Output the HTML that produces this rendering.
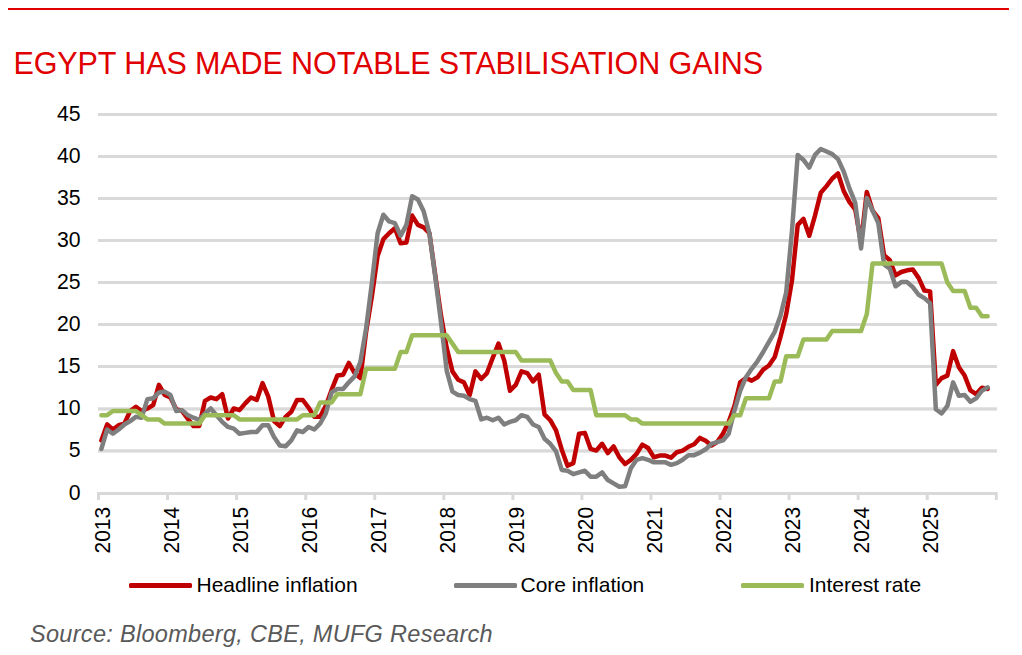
<!DOCTYPE html>
<html><head><meta charset="utf-8"><style>
html,body{margin:0;padding:0;background:#fff;width:1022px;height:655px;overflow:hidden}
svg{display:block}
text{font-family:"Liberation Sans",sans-serif}
.ax{font-size:22px;fill:#000}
.lg{font-size:21px;fill:#000}
</style></head><body>
<svg width="1022" height="655" viewBox="0 0 1022 655">
<rect x="8" y="8" width="1001" height="2" fill="#e00000"/>
<text x="13.5" y="74" style="font-size:30.5px;letter-spacing:-0.1px;fill:#e00000">EGYPT HAS MADE NOTABLE STABILISATION GAINS</text>
<rect x="98" y="449.3" width="899" height="3.3" fill="#d9d9d9"/><rect x="98" y="407.3" width="899" height="3.3" fill="#d9d9d9"/><rect x="98" y="365" width="899" height="3" fill="#d9d9d9"/><rect x="98" y="323" width="899" height="3" fill="#d9d9d9"/><rect x="98" y="281" width="899" height="3" fill="#d9d9d9"/><rect x="98" y="239" width="899" height="3" fill="#d9d9d9"/><rect x="98" y="197" width="899" height="3" fill="#d9d9d9"/><rect x="98" y="155" width="899" height="3" fill="#d9d9d9"/><rect x="98" y="113" width="899" height="3" fill="#d9d9d9"/>
<rect x="98" y="492" width="899" height="3" fill="#d9d9d9"/>
<rect x="97.00" y="492" width="3" height="8" fill="#d9d9d9"/><rect x="166.06" y="492" width="3" height="8" fill="#d9d9d9"/><rect x="235.12" y="492" width="3" height="8" fill="#d9d9d9"/><rect x="304.18" y="492" width="3" height="8" fill="#d9d9d9"/><rect x="373.24" y="492" width="3" height="8" fill="#d9d9d9"/><rect x="442.30" y="492" width="3" height="8" fill="#d9d9d9"/><rect x="511.36" y="492" width="3" height="8" fill="#d9d9d9"/><rect x="580.42" y="492" width="3" height="8" fill="#d9d9d9"/><rect x="649.48" y="492" width="3" height="8" fill="#d9d9d9"/><rect x="718.54" y="492" width="3" height="8" fill="#d9d9d9"/><rect x="787.60" y="492" width="3" height="8" fill="#d9d9d9"/><rect x="856.66" y="492" width="3" height="8" fill="#d9d9d9"/><rect x="925.72" y="492" width="3" height="8" fill="#d9d9d9"/><rect x="994.78" y="492" width="3" height="8" fill="#d9d9d9"/>
<text transform="translate(80.6,499.60) scale(0.965,1)" text-anchor="end" class="ax">0</text><text transform="translate(80.6,457.49) scale(0.965,1)" text-anchor="end" class="ax">5</text><text transform="translate(80.6,415.38) scale(0.965,1)" text-anchor="end" class="ax">10</text><text transform="translate(80.6,373.27) scale(0.965,1)" text-anchor="end" class="ax">15</text><text transform="translate(80.6,331.16) scale(0.965,1)" text-anchor="end" class="ax">20</text><text transform="translate(80.6,289.04) scale(0.965,1)" text-anchor="end" class="ax">25</text><text transform="translate(80.6,246.93) scale(0.965,1)" text-anchor="end" class="ax">30</text><text transform="translate(80.6,204.82) scale(0.965,1)" text-anchor="end" class="ax">35</text><text transform="translate(80.6,162.71) scale(0.965,1)" text-anchor="end" class="ax">40</text><text transform="translate(80.6,120.60) scale(0.965,1)" text-anchor="end" class="ax">45</text>
<text transform="translate(109.50,553.5) rotate(-90) scale(0.975,1)" class="ax" style="font-size:21.5px">2013</text><text transform="translate(178.56,553.5) rotate(-90) scale(0.975,1)" class="ax" style="font-size:21.5px">2014</text><text transform="translate(247.62,553.5) rotate(-90) scale(0.975,1)" class="ax" style="font-size:21.5px">2015</text><text transform="translate(316.68,553.5) rotate(-90) scale(0.975,1)" class="ax" style="font-size:21.5px">2016</text><text transform="translate(385.74,553.5) rotate(-90) scale(0.975,1)" class="ax" style="font-size:21.5px">2017</text><text transform="translate(454.80,553.5) rotate(-90) scale(0.975,1)" class="ax" style="font-size:21.5px">2018</text><text transform="translate(523.86,553.5) rotate(-90) scale(0.975,1)" class="ax" style="font-size:21.5px">2019</text><text transform="translate(592.92,553.5) rotate(-90) scale(0.975,1)" class="ax" style="font-size:21.5px">2020</text><text transform="translate(661.98,553.5) rotate(-90) scale(0.975,1)" class="ax" style="font-size:21.5px">2021</text><text transform="translate(731.04,553.5) rotate(-90) scale(0.975,1)" class="ax" style="font-size:21.5px">2022</text><text transform="translate(800.10,553.5) rotate(-90) scale(0.975,1)" class="ax" style="font-size:21.5px">2023</text><text transform="translate(869.16,553.5) rotate(-90) scale(0.975,1)" class="ax" style="font-size:21.5px">2024</text><text transform="translate(938.22,553.5) rotate(-90) scale(0.975,1)" class="ax" style="font-size:21.5px">2025</text>
<g fill="none" stroke-width="4.5" stroke-linejoin="round" stroke-linecap="round">
<polyline points="101.38,440.44 107.13,424.44 112.89,429.49 118.64,425.28 124.40,423.60 130.15,410.96 135.91,406.75 141.66,410.96 147.42,408.44 153.17,405.07 158.93,384.85 164.68,394.96 170.44,397.49 176.19,409.28 181.95,410.96 187.70,418.54 193.46,426.12 199.21,426.12 204.97,400.86 210.72,397.49 216.48,399.17 222.23,394.12 227.99,418.54 233.74,408.44 239.50,410.12 245.25,403.38 251.01,397.49 256.76,400.01 262.52,383.17 268.27,396.64 274.03,421.07 279.78,426.12 285.54,416.86 291.29,411.80 297.05,400.01 302.80,400.01 308.56,407.59 314.31,416.86 320.07,416.86 325.82,405.91 331.58,389.91 337.33,375.59 343.09,374.75 348.84,362.96 354.60,373.06 360.35,378.12 366.11,331.79 371.86,296.42 377.62,255.99 383.37,239.15 389.13,233.25 394.88,228.20 400.64,243.36 406.39,242.52 412.15,215.57 417.90,224.83 423.66,227.36 429.41,233.25 435.17,274.52 440.92,314.95 446.68,347.80 452.43,371.38 458.19,379.80 463.94,382.33 469.70,394.96 475.45,371.38 481.21,378.96 486.96,373.06 492.72,357.90 498.47,343.58 504.23,360.43 509.98,390.75 515.74,384.85 521.49,371.38 527.25,373.06 533.00,381.48 538.76,374.75 544.51,414.33 550.27,420.23 556.02,430.33 561.78,449.70 567.53,465.71 573.29,463.18 579.04,433.70 584.80,432.86 590.55,448.86 596.31,450.55 602.06,443.81 607.82,453.07 613.57,446.34 619.33,457.28 625.08,464.02 630.84,459.81 636.59,453.92 642.35,444.65 648.10,448.02 653.86,457.28 659.61,455.60 665.37,455.60 671.12,457.71 676.88,452.23 682.63,450.55 688.39,446.76 694.14,444.23 699.90,437.91 705.65,440.86 711.41,445.49 717.16,442.12 722.92,433.70 728.67,421.91 734.43,405.91 740.18,382.33 745.94,378.12 751.69,380.64 757.45,377.27 763.20,369.69 768.96,365.48 774.71,357.06 780.47,336.85 786.22,314.11 791.98,280.42 797.73,224.83 803.49,218.94 809.24,235.78 815.00,215.57 820.75,192.83 826.51,186.09 832.26,178.51 838.02,173.46 843.77,191.14 849.53,202.09 855.28,209.67 861.04,242.52 866.79,191.98 872.55,210.51 878.30,218.09 884.06,255.15 889.81,260.20 895.57,275.36 901.32,272.00 907.08,270.31 912.83,269.47 918.59,277.89 924.34,290.52 930.10,291.37 935.85,384.85 941.61,378.12 947.36,375.59 953.12,351.16 958.87,367.17 964.63,375.59 970.38,390.33 976.14,394.12 981.89,387.80 987.65,389.06" stroke="#c00000"/>
<polyline points="101.38,448.86 107.13,429.49 112.89,433.70 118.64,429.49 124.40,424.44 130.15,421.07 135.91,416.86 141.66,417.70 147.42,399.17 153.17,398.33 158.93,392.43 164.68,391.59 170.44,394.96 176.19,410.96 181.95,410.12 187.70,415.17 193.46,417.70 199.21,419.81 204.97,413.49 210.72,408.44 216.48,415.17 222.23,421.91 227.99,426.96 233.74,428.65 239.50,433.70 245.25,432.86 251.01,432.02 256.76,432.02 262.52,425.28 268.27,425.28 274.03,437.07 279.78,445.49 285.54,446.34 291.29,440.44 297.05,430.33 302.80,432.02 308.56,426.96 314.31,429.49 320.07,423.60 325.82,413.49 331.58,392.43 337.33,389.06 343.09,389.06 348.84,382.33 354.60,376.43 360.35,362.11 366.11,328.42 371.86,282.94 377.62,233.25 383.37,214.72 389.13,221.46 394.88,223.15 400.64,235.78 406.39,224.83 412.15,196.20 417.90,199.56 423.66,211.36 429.41,233.25 435.17,276.21 440.92,321.69 446.68,370.54 452.43,391.59 458.19,394.96 463.94,395.80 469.70,399.17 475.45,400.86 481.21,419.38 486.96,417.70 492.72,420.23 498.47,417.70 504.23,424.44 509.98,421.91 515.74,420.23 521.49,415.17 527.25,416.86 533.00,424.44 538.76,426.96 544.51,438.76 550.27,443.81 556.02,451.39 561.78,469.92 567.53,470.76 573.29,474.13 579.04,472.44 584.80,470.76 590.55,476.66 596.31,476.66 602.06,472.44 607.82,480.02 613.57,483.39 619.33,486.76 625.08,486.34 630.84,468.23 636.59,459.81 642.35,458.13 648.10,459.81 653.86,462.34 659.61,462.34 665.37,462.34 671.12,464.86 676.88,463.18 682.63,459.81 688.39,455.18 694.14,455.18 699.90,452.65 705.65,449.28 711.41,443.81 717.16,442.12 722.92,440.44 728.67,433.70 734.43,410.54 740.18,390.75 745.94,377.27 751.69,368.85 757.45,361.27 763.20,352.01 768.96,341.90 774.71,331.79 780.47,315.79 786.22,292.21 791.98,230.73 797.73,154.93 803.49,159.98 809.24,167.56 815.00,154.93 820.75,149.03 826.51,151.56 832.26,154.08 838.02,159.14 843.77,171.77 849.53,188.62 855.28,202.93 861.04,248.41 866.79,197.88 872.55,210.51 878.30,223.15 884.06,264.42 889.81,268.63 895.57,286.31 901.32,282.10 907.08,282.10 912.83,287.16 918.59,294.74 924.34,298.10 930.10,303.16 935.85,409.28 941.61,413.49 947.36,405.91 953.12,382.33 958.87,395.80 964.63,394.96 970.38,401.70 976.14,398.33 981.89,390.75 987.65,387.38" stroke="#7f7f7f"/>
<polyline points="101.38,415.19 107.13,415.19 112.89,410.98 118.64,410.98 124.40,410.98 130.15,410.98 135.91,410.98 141.66,415.19 147.42,419.41 153.17,419.41 158.93,419.41 164.68,423.62 170.44,423.62 176.19,423.62 181.95,423.62 187.70,423.62 193.46,423.62 199.21,423.62 204.97,415.19 210.72,415.19 216.48,415.19 222.23,415.19 227.99,415.19 233.74,415.19 239.50,419.41 245.25,419.41 251.01,419.41 256.76,419.41 262.52,419.41 268.27,419.41 274.03,419.41 279.78,419.41 285.54,419.41 291.29,419.41 297.05,419.41 302.80,415.19 308.56,415.19 314.31,415.19 320.07,402.56 325.82,402.56 331.58,402.56 337.33,394.14 343.09,394.14 348.84,394.14 354.60,394.14 360.35,394.14 366.11,368.87 371.86,368.87 377.62,368.87 383.37,368.87 389.13,368.87 394.88,368.87 400.64,352.03 406.39,352.03 412.15,335.18 417.90,335.18 423.66,335.18 429.41,335.18 435.17,335.18 440.92,335.18 446.68,335.18 452.43,343.61 458.19,352.03 463.94,352.03 469.70,352.03 475.45,352.03 481.21,352.03 486.96,352.03 492.72,352.03 498.47,352.03 504.23,352.03 509.98,352.03 515.74,352.03 521.49,360.45 527.25,360.45 533.00,360.45 538.76,360.45 544.51,360.45 550.27,360.45 556.02,373.08 561.78,381.51 567.53,381.51 573.29,389.93 579.04,389.93 584.80,389.93 590.55,389.93 596.31,415.19 602.06,415.19 607.82,415.19 613.57,415.19 619.33,415.19 625.08,415.19 630.84,419.41 636.59,419.41 642.35,423.62 648.10,423.62 653.86,423.62 659.61,423.62 665.37,423.62 671.12,423.62 676.88,423.62 682.63,423.62 688.39,423.62 694.14,423.62 699.90,423.62 705.65,423.62 711.41,423.62 717.16,423.62 722.92,423.62 728.67,423.62 734.43,415.19 740.18,415.19 745.94,398.35 751.69,398.35 757.45,398.35 763.20,398.35 768.96,398.35 774.71,381.51 780.47,381.51 786.22,356.24 791.98,356.24 797.73,356.24 803.49,339.39 809.24,339.39 815.00,339.39 820.75,339.39 826.51,339.39 832.26,330.97 838.02,330.97 843.77,330.97 849.53,330.97 855.28,330.97 861.04,330.97 866.79,314.13 872.55,263.59 878.30,263.59 884.06,263.59 889.81,263.59 895.57,263.59 901.32,263.59 907.08,263.59 912.83,263.59 918.59,263.59 924.34,263.59 930.10,263.59 935.85,263.59 941.61,263.59 947.36,282.54 953.12,290.97 958.87,290.97 964.63,290.97 970.38,307.81 976.14,307.81 981.89,316.23 987.65,316.23" stroke="#9bbb59"/>
</g>
<rect x="129" y="583" width="63" height="5" rx="1.5" fill="#c00000"/>
<text x="196.5" y="592" class="lg">Headline inflation</text>
<rect x="454" y="583" width="63" height="5" rx="1.5" fill="#7f7f7f"/>
<text x="520.5" y="592" class="lg">Core inflation</text>
<rect x="741" y="583" width="63" height="5" rx="1.5" fill="#9bbb59"/>
<text x="809" y="592" class="lg">Interest rate</text>
<text x="30" y="642" style="font-size:23.5px;letter-spacing:0.3px;font-style:italic;fill:#595959">Source: Bloomberg, CBE, MUFG Research</text>
</svg>
</body></html>
